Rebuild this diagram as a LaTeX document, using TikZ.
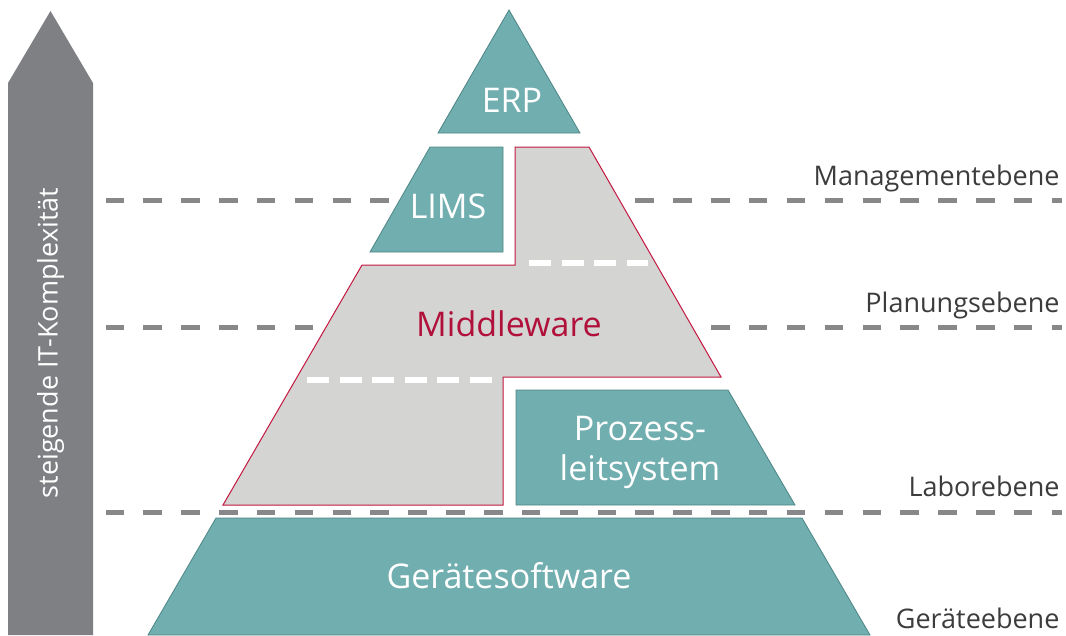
\documentclass[tikz,border=0pt]{standalone}
\usepackage{fontspec}
\setmainfont{Open Sans}
\usepackage{tikz}
\usetikzlibrary{positioning}
\definecolor{tealfill}{HTML}{71AEAF}
\definecolor{tealline}{HTML}{4D8586}
\definecolor{midfill}{HTML}{D4D4D3}
\definecolor{midline}{HTML}{C4173F}
\definecolor{midtext}{HTML}{B0103A}
\definecolor{arrowgray}{HTML}{7F8084}
\definecolor{levelgray}{HTML}{88888B}
\definecolor{labelgray}{HTML}{3C3C3C}

\begin{document}
\begin{tikzpicture}[
  x=1pt, y=-1pt,
  level/.style={draw=levelgray, line width=5pt, dash pattern=on 18.5pt off 19.35pt},
  split/.style={draw=white, line width=6pt, dash pattern=on 22pt off 10.5pt},
  block/.style={fill=tealfill, draw=tealline, line width=0.8pt},
  blocktext/.style={text=white, font=\fontsize{34}{40}\selectfont, align=center},
  lvltext/.style={text=labelgray, font=\fontsize{27}{32}\selectfont, anchor=base east}
]
\useasboundingbox (0,0) rectangle (1066,635);

% Komplexitaetspfeil
\fill[arrowgray] (8,635) -- (8,83) -- (50.5,11) -- (93,83) -- (93,635) -- cycle;
\node[rotate=90, text=white, font=\fontsize{27}{30}\selectfont] (komplex) at (50.5,343) {steigende IT-Komplexität};

% Ebenen
\foreach \y in {200,327,512}
  \draw[level] (105.5,\y) -- (1062,\y);

\node[lvltext] (mgmt)  at (1063,185) {Managementebene};
\node[lvltext] (plan)  at (1063,312) {Planungsebene};
\node[lvltext] (labor) at (1063,496) {Laborebene};
\node[lvltext] (geraet) at (1063,628) {Geräteebene};

% Pyramide
\draw[block] (509,10) -- (580,133) -- (438,133) -- cycle;
\draw[block] (430,147) -- (503,147) -- (503,252) -- (370,252) -- cycle;
\draw[fill=midfill, draw=midline, line width=1pt]
  (515,147) -- (589,147) -- (721,377) -- (503,377) -- (503,505)
  -- (223,505) -- (362,265) -- (515,265) -- cycle;
\draw[split] (529,263) -- (648,263);
\draw[split] (307,380) -- (492,380);
\draw[block] (516,390) -- (728,390) -- (795,505) -- (516,505) -- cycle;
\draw[block] (216,518) -- (802,518) -- (870,635) -- (148,635) -- cycle;

\node[blocktext, anchor=base] (erp)  at (512,112) {ERP};
\node[blocktext, anchor=base] (lims) at (448,218) {LIMS};
\node[blocktext, anchor=base, text=midtext] (middle) at (509,336) {Middleware};
\node[blocktext] (pls) at (640,452) {Prozess-\\leitsystem};
\node[blocktext, anchor=base] (soft) at (509,588) {Gerätesoftware};
\end{tikzpicture}
\end{document}
